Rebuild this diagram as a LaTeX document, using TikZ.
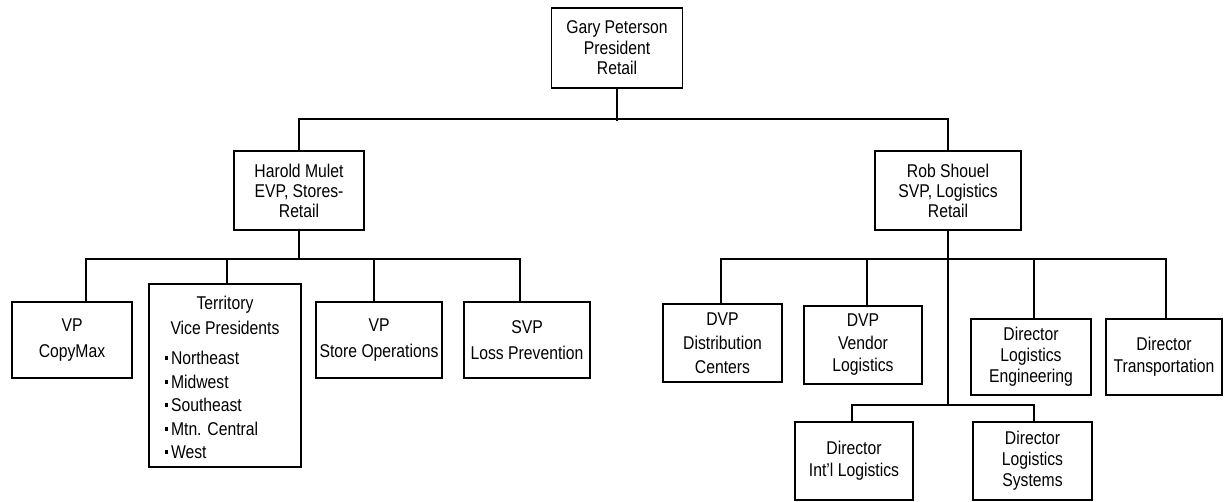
\documentclass[tikz,border=0pt]{standalone}
\usepackage{fontspec}
\setmainfont{Liberation Sans}[FakeStretch=0.85]
\newcommand\orgfs[1]{\fontsize{18.5}{#1}\selectfont}
\newcommand\sqb{\rule[4.5pt]{3.2pt}{4pt}}
\begin{document}
\begin{tikzpicture}[x=1pt,y=-1pt,line width=1.5pt,
  box/.style={draw=black,rectangle,inner sep=0pt,align=center,fill=white},
  txt/.style={inner sep=0pt,align=center},
  conn/.style={draw=black,line width=1.6pt,line cap=rect}]
\useasboundingbox[fill=white] (0,0) rectangle (1224,502);

% top level
\node[box,font=\orgfs{20.5},minimum width=131,minimum height=80] (gary) at (617,48) {Gary Peterson\\President\\Retail};
\node[box,font=\orgfs{20},minimum width=130,minimum height=79] (harold) at (299,190.5) {Harold Mulet\\EVP, Stores-\\Retail};
\node[box,font=\orgfs{20},minimum width=146,minimum height=79] (rob) at (948,190.5) {Rob Shouel\\SVP, Logistics\\Retail};

% left branch
\node[box,font=\orgfs{26},minimum width=120,minimum height=76] (copymax) at (72,340) {VP\\CopyMax};
\node[box,minimum width=152,minimum height=183] (terr) at (225,375.5) {};
\node[txt,font=\orgfs{25}] (terrtitle) at (225,315.5) {Territory\\Vice Presidents};
\node[txt,font=\orgfs{23.5},align=left,anchor=west] (terrlist) at (164,405) {\sqb\,Northeast\\\sqb\,Midwest\\\sqb\,Southeast\\\sqb\,Mtn. Central\\\sqb\,West};
\node[box,font=\orgfs{26},minimum width=126,minimum height=76] (storeops) at (379,340) {VP\\Store Operations};
\node[box,font=\orgfs{26},minimum width=126,minimum height=76] (lossprev) at (527,340) {SVP\\Loss Prevention};

% right branch
\node[box,font=\orgfs{24},minimum width=119,minimum height=78] (distc) at (722.5,343) {DVP\\Distribution\\Centers};
\node[box,font=\orgfs{22.5},minimum width=118,minimum height=78] (vendor) at (863,345) {DVP\\Vendor\\Logistics};
\node[box,font=\orgfs{21},minimum width=120,minimum height=76] (engin) at (1031,357) {Director\\Logistics\\Engineering};
\node[box,font=\orgfs{22},minimum width=116,minimum height=76] (transp) at (1164,357) {Director\\Transportation};
\node[box,font=\orgfs{22},minimum width=118,minimum height=78] (intl) at (854,461) {Director\\Int'l Logistics};
\node[box,font=\orgfs{21},minimum width=119,minimum height=78] (systems) at (1032.5,461) {Director\\Logistics\\Systems};

% connectors: top
\coordinate (topbar) at (617,120);
\draw[conn] (gary.south) -- (topbar);
\draw[conn] (harold.north) -- ++(0,-31) -| (rob.north);

% connectors: left
\coordinate (lbar) at (299,259);
\coordinate (l1) at (86,259);
\coordinate (l2) at (227,259);
\coordinate (l3) at (374,259);
\coordinate (l4) at (520,259);
\draw[conn] (harold.south) -- (lbar);
\draw[conn] (l1) -- (l4);
\draw[conn] (l1) -- (l1 |- copymax.north);
\draw[conn] (l2) -- (l2 |- terr.north);
\draw[conn] (l3) -- (l3 |- storeops.north);
\draw[conn] (l4) -- (l4 |- lossprev.north);

% connectors: right
\coordinate (rbar) at (948,259);
\coordinate (r1) at (721,259);
\coordinate (r2) at (867,259);
\coordinate (r4) at (1034,259);
\coordinate (r5) at (1166,259);
\coordinate (lowbar) at (948,405);
\coordinate (b1) at (852,405);
\coordinate (b2) at (1034,405);
\draw[conn] (rob.south) -- (rbar);
\draw[conn] (r1) -- (r5);
\draw[conn] (r1) -- (r1 |- distc.north);
\draw[conn] (r2) -- (r2 |- vendor.north);
\draw[conn] (r4) -- (r4 |- engin.north);
\draw[conn] (r5) -- (r5 |- transp.north);
\draw[conn] (rbar) -- (lowbar);
\draw[conn] (b1) -- (b2);
\draw[conn] (b1) -- (b1 |- intl.north);
\draw[conn] (b2) -- (b2 |- systems.north);
\end{tikzpicture}
\end{document}
